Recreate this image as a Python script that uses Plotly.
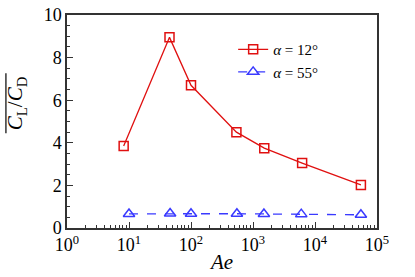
import plotly.graph_objects as go

ae_12 = [8.2, 45, 100, 540, 1520, 6200, 55000]
cl_cd_12 = [3.85, 8.95, 6.7, 4.5, 3.75, 3.05, 2.02]
ae_55 = [10, 46, 100, 550, 1500, 6000, 55000]
cl_cd_55 = [0.66, 0.68, 0.67, 0.67, 0.66, 0.65, 0.62]
x_tickvals = [1, 10, 100, 1000, 10000, 100000]
x_ticktext = ["10<sup>0</sup>", "10<sup>1</sup>", "10<sup>2</sup>", "10<sup>3</sup>", "10<sup>4</sup>", "10<sup>5</sup>"]
y_tickvals = [0, 2, 4, 6, 8, 10]

serif = '"Liberation Serif", "Times New Roman", "DejaVu Serif", serif'

fig = go.Figure()
fig.add_trace(go.Scatter(
    x=ae_12, y=cl_cd_12, mode="lines+markers", name="<i>α</i> = 12°",
    line=dict(color="#e01010", width=1.3),
    marker=dict(symbol="square-open", size=9, color="#e01010", line=dict(width=1.5)),
))
fig.add_trace(go.Scatter(
    x=ae_55, y=cl_cd_55, mode="lines+markers", name="<i>α</i> = 55°",
    line=dict(color="#3a3aff", width=1.3, dash="dash"),
    marker=dict(symbol="triangle-up-open", size=10, color="#3a3aff", line=dict(width=1.5)),
))

fig.update_layout(
    width=415, height=277,
    margin=dict(l=67, r=38, t=15, b=49, autoexpand=False),
    paper_bgcolor="white", plot_bgcolor="white",
    font=dict(family=serif, size=18, color="black"),
    showlegend=True,
    legend=dict(x=0.536, y=0.915, xanchor="left", yanchor="top",
                bgcolor="rgba(0,0,0,0)", font=dict(size=15, family=serif),
                tracegroupgap=0, itemwidth=30),
    xaxis=dict(
        type="log", range=[0, 5], automargin=False,
        tickvals=x_tickvals, ticktext=x_ticktext,
        ticks="inside", ticklen=6, tickcolor="#333",
        showline=True, linecolor="#333", linewidth=1.5, mirror=True,
        showgrid=False, zeroline=False,
        minor=dict(ticks="inside", ticklen=3, tickcolor="#333", dtick="D1", showgrid=False),
        title=dict(text="<i>Ae</i>", font=dict(size=21, family=serif), standoff=0),
        tickfont=dict(size=18, family=serif),
    ),
    yaxis=dict(
        range=[0, 10], tickvals=y_tickvals, automargin=False,
        ticks="inside", ticklen=6, tickcolor="#333",
        showline=True, linecolor="#333", linewidth=1.5, mirror=True,
        showgrid=False, zeroline=False,
        minor=dict(ticks="inside", ticklen=3, tickcolor="#333", dtick=0.5, showgrid=False),
        tickfont=dict(size=18, family=serif),
    ),
)

fig.add_annotation(
    text="<i>C</i><sub>L</sub>/<i>C</i><sub>D</sub>", textangle=-90,
    xref="paper", yref="paper", x=-0.162, y=0.585, xanchor="center", yanchor="middle",
    showarrow=False, font=dict(size=21, family=serif),
)
fig.add_shape(type="line", xref="paper", yref="paper",
              x0=-0.197, x1=-0.197, y0=0.445, y1=0.727,
              line=dict(color="black", width=1.2))

fig.write_html("out.html", config={"displayModeBar": False},
               post_script="document.body.style.margin='0';")
